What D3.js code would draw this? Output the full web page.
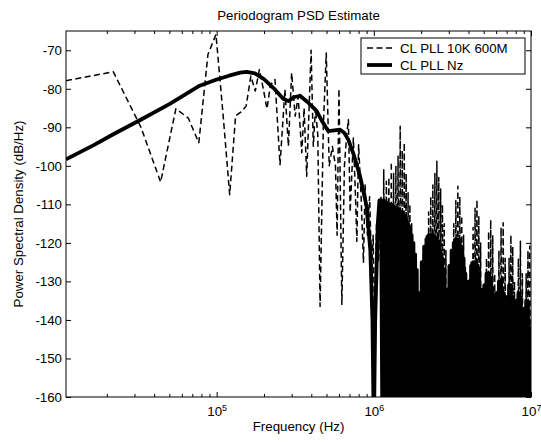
<!DOCTYPE html>
<html>
<head>
<meta charset="utf-8">
<script src="https://cdn.jsdelivr.net/npm/d3@7"></script>
<style>
  body { margin: 0; background: #fff; }
  svg { font-family: "Liberation Sans", Arial, Helvetica, sans-serif; }
</style>
</head>
<body>
<svg width="541" height="442"></svg>
<script>
// axis ranges and ticks
var freqRange = [11000, 1e7];
var dbRange = [-160, -65];
var dbTicks = [-160, -150, -140, -130, -120, -110, -100, -90, -80, -70];
var decadeTicks = [1e5, 1e6, 1e7];
var decadeExp = ["5", "6", "7"];
var seriesNames = ["CL PLL 10K 600M", "CL PLL Nz"];

// CL PLL 10K 600M (dashed), below 1.1 MHz, read vertex by vertex
var pllKHz = [11, 22, 33, 44, 55, 66, 77, 88, 99, 110, 121, 132, 143, 154, 165, 176, 187, 198, 209, 220,
  235, 253, 272, 286, 300, 316, 330, 348, 360, 374, 399, 412, 425, 440, 455, 477, 498, 520, 545, 570,
  584, 600, 626, 650, 672, 689, 707, 741, 760, 780, 800, 830, 859, 880, 910, 940, 970, 990, 1010, 1040, 1070];
var pllDb = [-77.9, -75.6, -90, -104.2, -85.2, -87.6, -94, -71.1, -65.9, -87, -107.5, -87, -86, -84.5, -76.7, -80.6, -75, -80, -85.2, -79,
  -77.6, -99.7, -80.2, -94.9, -75.9, -87.1, -82, -96.6, -85, -102.7, -70, -94.9, -85, -92, -136.5, -90, -70.7, -100, -95, -100,
  -118, -80, -136, -100, -92, -88, -112, -92.8, -105, -119.6, -94.5, -108, -125, -105, -118, -108, -128, -118, -140, -115, -125];

// CL PLL Nz (solid), smooth part below 1.1 MHz
var nzKHz = [11, 16.4, 22, 33.3, 50, 78, 100, 120, 141, 155, 175, 200, 230, 265, 286, 310, 339, 380, 433, 470,
  513, 560, 610, 650, 688, 750, 817, 900, 950, 980, 1000, 1020, 1060, 1085];
var nzDb = [-98.3, -94.7, -91.8, -87.9, -84, -79.2, -77.6, -76.6, -75.8, -75.6, -76, -77.5, -79.8, -82.6, -83.2, -82.2, -81.8, -83.5, -85.8, -88.5,
  -91, -90.8, -90.6, -91.5, -93.2, -97.5, -102.7, -110.5, -122, -140, -170, -140, -115, -109];

// above 1.1 MHz both estimates swing hard inside each 1 MHz lobe:
// per lobe, the tops and bottoms of the swings
var lobeEdgesKHz = [1100, 2000, 3000, 4000, 5000, 6000, 7000, 8000, 9000, 10000];

var pllPeaks = [
  [-108, -101, -104, -103, -99, -102, -100, -97.5, -89.7, -96, -94, -102, -107, -110, -115, -120, -125, -135, -145, -150],
  [-135, -125, -118, -112, -108, -105, -102, -98.8, -103, -106, -110, -115, -122, -132],
  [-140, -125, -115, -109, -105.3, -108, -113, -118, -126, -138],
  [-140, -125, -116, -111, -108.8, -113, -120, -132],
  [-138, -124, -117, -114, -118, -128],
  [-135, -122, -116, -114.8, -124],
  [-136, -124, -118, -121, -130],
  [-135, -124, -119.6, -128],
  [-138, -128, -122, -120.9]
];
var pllDips = [
  [-150, -165, -140, -170, -155, -170, -145, -170, -160, -170, -150, -170, -165, -170, -170, -170, -170, -170, -170, -170],
  [-170, -160, -170, -150, -170, -165, -170, -160, -170, -155, -170, -165, -170, -170],
  [-170, -165, -170, -155, -170, -160, -170, -165, -170, -170],
  [-170, -160, -170, -155, -170, -165, -170, -170],
  [-170, -160, -170, -160, -170, -170],
  [-170, -165, -170, -160, -170],
  [-170, -160, -170, -165, -170],
  [-170, -165, -170, -170],
  [-170, -165, -170, -160]
];

var nzPeaks = [
  [-109, -109, -109.5, -110, -110, -110.5, -111, -111, -112, -112, -113, -114, -115, -116, -118, -120, -123, -127, -133, -142],
  [-125, -121, -119, -118, -118, -118, -118.5, -119, -120, -122, -124, -127, -132, -140],
  [-126, -122, -120, -119, -119, -120, -121, -124, -128, -135],
  [-130, -126, -125, -125, -126, -128, -132, -140],
  [-131, -128, -128, -129, -132, -140],
  [-133, -130, -130, -133, -140],
  [-134, -131, -131, -134, -141],
  [-135, -133, -134, -140],
  [-137, -135, -136, -142]
];
var nzDips = [
  [-170, -170, -170, -170, -170, -170, -170, -170, -170, -170, -170, -170, -170, -170, -170, -170, -170, -170, -170, -170],
  [-170, -170, -170, -170, -170, -170, -170, -170, -170, -170, -170, -170, -170, -170],
  [-170, -170, -170, -170, -170, -170, -170, -170, -170, -170],
  [-170, -170, -170, -170, -170, -170, -170, -170],
  [-170, -170, -170, -170, -170, -170],
  [-170, -170, -170, -170, -170],
  [-170, -170, -170, -170, -170],
  [-170, -170, -170, -170],
  [-170, -170, -170, -170]
];

// points of one series: the read vertices, then the lobes, peaks and dips spread over each lobe
function buildSeries(kHz, db, peaks, dips) {
  var pts = kHz.map(function(f, i) { return {f: f * 1000, db: db[i]}; });
  peaks.forEach(function(lobe, n) {
    var a = lobeEdgesKHz[n], b = lobeEdgesKHz[n + 1], m = lobe.length * 2;
    lobe.forEach(function(p, i) {
      pts.push({f: (a + (b - a) * (2 * i + 0.5) / m) * 1000, db: p});
      pts.push({f: (a + (b - a) * (2 * i + 1.5) / m) * 1000, db: dips[n][i]});
    });
  });
  return pts;
}

var pllData = buildSeries(pllKHz, pllDb, pllPeaks, pllDips);
var nzData = buildSeries(nzKHz, nzDb, nzPeaks, nzDips);

var svg = d3.select("svg"),
    margin = {top: 31, right: 10, bottom: 45, left: 66},
    width = +svg.attr("width") - margin.left - margin.right,
    height = +svg.attr("height") - margin.top - margin.bottom;

var x = d3.scaleLog().domain(freqRange).range([0, width]),
    y = d3.scaleLinear().domain(dbRange).range([height, 0]);

var g = svg.append("g")
    .attr("transform", "translate(" + margin.left + "," + margin.top + ")");

// minor log ticks 2..9 per decade
var minorTicks = [];
[1e4, 1e5, 1e6].forEach(function(dec) {
  for (var k = 2; k <= 9; k++) {
    if (k * dec >= freqRange[0]) minorTicks.push(k * dec);
  }
});

g.append("defs").append("clipPath").attr("id", "plotclip")
  .append("rect").attr("width", width).attr("height", height);

// lines
var line = d3.line()
    .x(function(d) { return x(d.f); })
    .y(function(d) { return y(d.db); });

var plot = g.append("g").attr("clip-path", "url(#plotclip)");

plot.append("path")
    .datum(pllData)
    .attr("fill", "none")
    .attr("stroke", "#000")
    .attr("stroke-width", 1.5)
    .attr("stroke-dasharray", "6,3.5")
    .attr("stroke-linejoin", "round")
    .attr("d", line);

plot.append("path")
    .datum(nzData)
    .attr("fill", "none")
    .attr("stroke", "#000")
    .attr("stroke-width", 3.8)
    .attr("stroke-linejoin", "round")
    .attr("d", line);

// axes, ticks pointing inward like matlab
function tidy(sel) {
  sel.select(".domain").remove();
  sel.selectAll(".tick line").attr("stroke", "#000");
  sel.selectAll("text").attr("fill", "#000").style("font-size", "13.3px");
}

g.append("g")
    .call(d3.axisLeft(y).tickValues(dbTicks).tickSizeInner(-5).tickSizeOuter(0).tickPadding(4)
      .tickFormat(function(d) { return String(d); }))
    .call(tidy);

g.append("g")
    .attr("transform", "translate(" + width + ",0)")
    .call(d3.axisRight(y).tickValues(dbTicks).tickSizeInner(-5).tickSizeOuter(0).tickFormat(""))
    .call(tidy);

var xAxis = g.append("g")
    .attr("transform", "translate(0," + height + ")")
    .call(d3.axisBottom(x).tickValues(decadeTicks).tickSizeInner(-5).tickSizeOuter(0).tickPadding(10)
      .tickFormat(function() { return ""; }))
    .call(tidy);

// 10 with a raised exponent
xAxis.selectAll(".tick text").each(function(d, i) {
  var t = d3.select(this).attr("text-anchor", "middle");
  t.append("tspan").text("10");
  t.append("tspan").attr("dy", "-0.55em").style("font-size", "9px").text(decadeExp[i]);
});

g.append("g")
    .attr("transform", "translate(0," + height + ")")
    .call(d3.axisBottom(x).tickValues(minorTicks).tickSizeInner(-3).tickSizeOuter(0).tickFormat(""))
    .call(tidy);

g.append("g")
    .call(d3.axisTop(x).tickValues(decadeTicks).tickSizeInner(-5).tickSizeOuter(0).tickFormat(""))
    .call(tidy);

g.append("g")
    .call(d3.axisTop(x).tickValues(minorTicks).tickSizeInner(-3).tickSizeOuter(0).tickFormat(""))
    .call(tidy);

// box
g.append("rect")
    .attr("width", width)
    .attr("height", height)
    .attr("fill", "none")
    .attr("stroke", "#000")
    .attr("stroke-width", 1);

// labels
svg.append("text")
    .attr("x", margin.left + width / 2)
    .attr("y", 20)
    .attr("text-anchor", "middle")
    .style("font-size", "13.3px")
    .text("Periodogram PSD Estimate");

svg.append("text")
    .attr("x", margin.left + width / 2)
    .attr("y", 431)
    .attr("text-anchor", "middle")
    .style("font-size", "13.3px")
    .text("Frequency (Hz)");

svg.append("text")
    .attr("transform", "translate(23," + (margin.top + height / 2) + ") rotate(-90)")
    .attr("text-anchor", "middle")
    .style("font-size", "13.3px")
    .text("Power Spectral Density (dB/Hz)");

// legend
var legend = svg.append("g").attr("transform", "translate(361,38)");

legend.append("rect")
    .attr("width", 164)
    .attr("height", 36)
    .attr("fill", "#fff")
    .attr("stroke", "#000")
    .attr("stroke-width", 1);

var legendRows = legend.selectAll(".row")
    .data(seriesNames)
    .enter().append("g")
      .attr("class", "row")
      .attr("transform", function(d, i) { return "translate(0," + (10 + i * 17) + ")"; });

legendRows.append("line")
    .attr("x1", 6).attr("x2", 31)
    .attr("stroke", "#000")
    .attr("stroke-width", function(d, i) { return i === 0 ? 1.5 : 3.8; })
    .attr("stroke-dasharray", function(d, i) { return i === 0 ? "6,3.5" : null; });

legendRows.append("text")
    .attr("x", 39)
    .attr("dy", "0.35em")
    .style("font-size", "13.3px")
    .text(function(d) { return d; });
</script>
</body>
</html>
